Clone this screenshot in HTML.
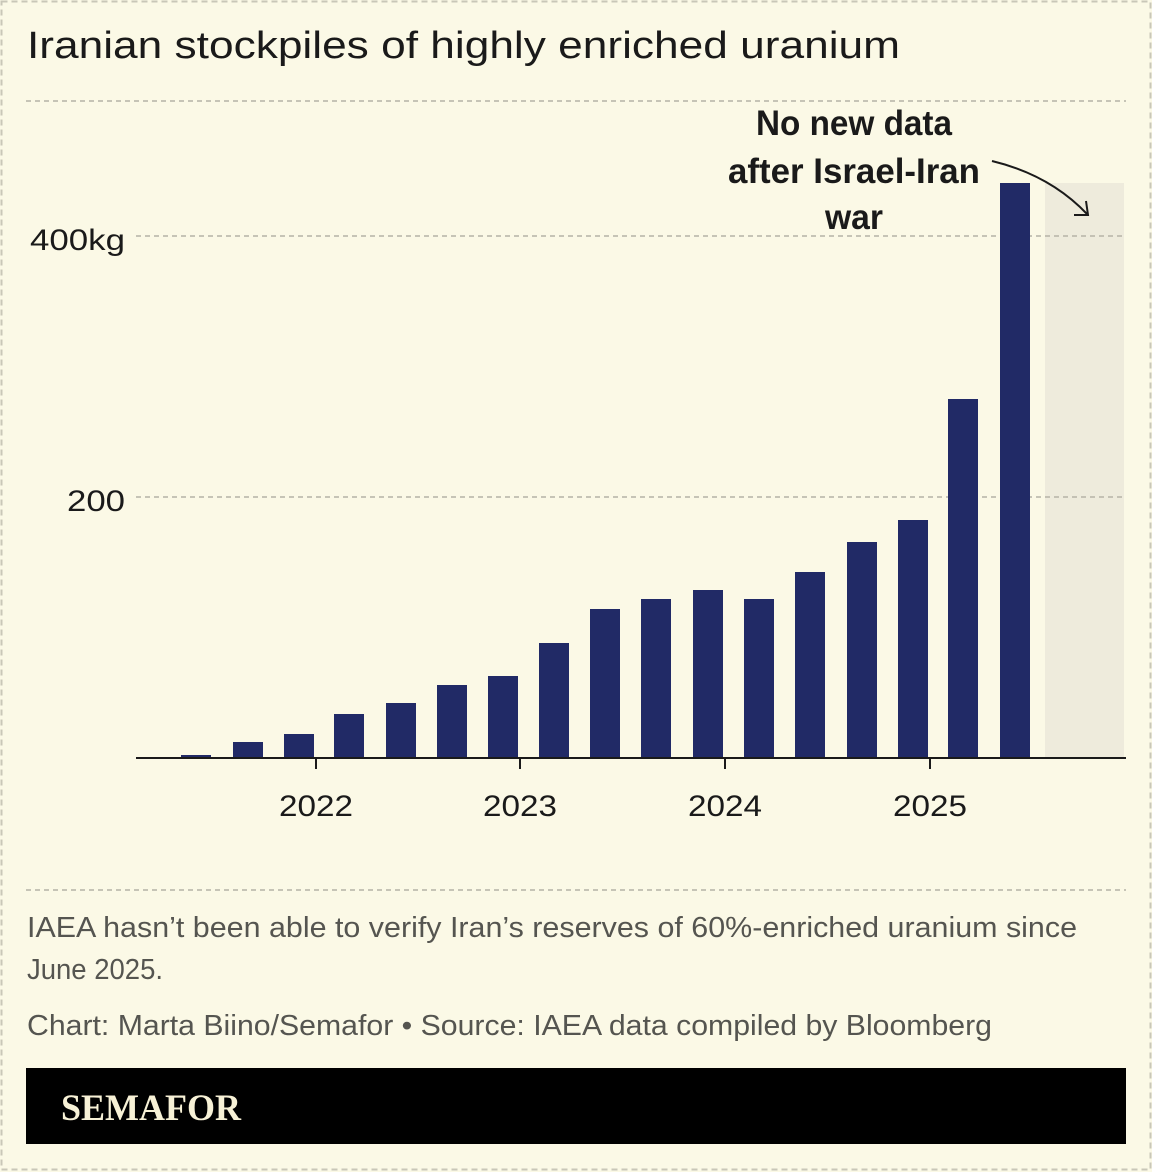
<!DOCTYPE html>
<html><head><meta charset="utf-8"><style>
html,body{margin:0;padding:0;background:#fbf9e6;}
svg{display:block}
text{font-family:"Liberation Sans",sans-serif}
</style></head><body>
<svg width="1152" height="1172" viewBox="0 0 1152 1172" xmlns="http://www.w3.org/2000/svg">
<rect x="0" y="0" width="1152" height="1172" fill="#fbf9e6"/>
<rect x="1.5" y="1.5" width="1149" height="1168" fill="none" stroke="#c9c7b8" stroke-width="2" stroke-dasharray="6,4"/>
<text x="27" y="58" font-size="38" fill="#1a1a1a" textLength="873" lengthAdjust="spacingAndGlyphs">Iranian stockpiles of highly enriched uranium</text>
<rect x="1045" y="183" width="79" height="575" fill="#eeebdc"/>
<g stroke="#b5b3a6" stroke-width="1.5" stroke-dasharray="5,4">
<line x1="26" y1="101" x2="1126" y2="101"/>
<line x1="136" y1="236" x2="1124" y2="236"/>
<line x1="136" y1="497" x2="1124" y2="497"/>
<line x1="26" y1="890" x2="1126" y2="890"/>
</g>
<text x="125" y="250" font-size="30" text-anchor="end" fill="#1a1a1a" textLength="95" lengthAdjust="spacingAndGlyphs">400kg</text>
<text x="125" y="511" font-size="30" text-anchor="end" fill="#1a1a1a" textLength="58" lengthAdjust="spacingAndGlyphs">200</text>
<g fill="#212a66">
<rect x="181" y="755" width="30" height="3"/>
<rect x="233" y="742" width="30" height="16"/>
<rect x="284" y="734" width="30" height="24"/>
<rect x="334" y="714" width="30" height="44"/>
<rect x="386" y="703" width="30" height="55"/>
<rect x="437" y="685" width="30" height="73"/>
<rect x="488" y="676" width="30" height="82"/>
<rect x="539" y="643" width="30" height="115"/>
<rect x="590" y="609" width="30" height="149"/>
<rect x="641" y="599" width="30" height="159"/>
<rect x="693" y="590" width="30" height="168"/>
<rect x="744" y="599" width="30" height="159"/>
<rect x="795" y="572" width="30" height="186"/>
<rect x="847" y="542" width="30" height="216"/>
<rect x="898" y="520" width="30" height="238"/>
<rect x="948" y="399" width="30" height="359"/>
<rect x="1000" y="183" width="30" height="575"/>
</g>
<line x1="136" y1="758" x2="1126" y2="758" stroke="#1a1a1a" stroke-width="2"/>
<g stroke="#1a1a1a" stroke-width="2">
<line x1="316" y1="758" x2="316" y2="769"/>
<line x1="520" y1="758" x2="520" y2="769"/>
<line x1="725" y1="758" x2="725" y2="769"/>
<line x1="930" y1="758" x2="930" y2="769"/>
</g>
<g font-size="30" text-anchor="middle" fill="#1a1a1a">
<text x="316" y="816" textLength="74" lengthAdjust="spacingAndGlyphs">2022</text>
<text x="520" y="816" textLength="74" lengthAdjust="spacingAndGlyphs">2023</text>
<text x="725" y="816" textLength="74" lengthAdjust="spacingAndGlyphs">2024</text>
<text x="930" y="816" textLength="74" lengthAdjust="spacingAndGlyphs">2025</text>
</g>
<g font-weight="bold" font-size="35" text-anchor="middle" fill="#1a1a1a">
<text x="854" y="135" textLength="196" lengthAdjust="spacingAndGlyphs" style="font-family:'Liberation Sans Narrow','Liberation Sans',sans-serif">No new data</text>
<text x="854" y="183" textLength="252" lengthAdjust="spacingAndGlyphs" style="font-family:'Liberation Sans Narrow','Liberation Sans',sans-serif">after Israel-Iran</text>
<text x="854" y="229" textLength="58" lengthAdjust="spacingAndGlyphs" style="font-family:'Liberation Sans Narrow','Liberation Sans',sans-serif">war</text>
</g>
<path d="M992 161 Q1050 175 1087 214" fill="none" stroke="#1a1a1a" stroke-width="2"/>
<path d="M1074 215 L1088 215 L1086 201" fill="none" stroke="#1a1a1a" stroke-width="2"/>
<g font-size="29" fill="#555550">
<text x="27" y="937" textLength="1050" lengthAdjust="spacingAndGlyphs">IAEA hasn’t been able to verify Iran’s reserves of 60%-enriched uranium since</text>
<text x="27" y="979" textLength="136" lengthAdjust="spacingAndGlyphs">June 2025.</text>
<text x="27" y="1035" textLength="965" lengthAdjust="spacingAndGlyphs">Chart: Marta Biino/Semafor • Source: IAEA data compiled by Bloomberg</text>
</g>
<rect x="26" y="1068" width="1100" height="76" fill="#000"/>
<text x="61" y="1120" style="font-family:'Liberation Serif',serif" font-weight="bold" font-size="37" fill="#f7f1d6" textLength="180" lengthAdjust="spacingAndGlyphs">SEMAFOR</text>
</svg>
</body></html>
